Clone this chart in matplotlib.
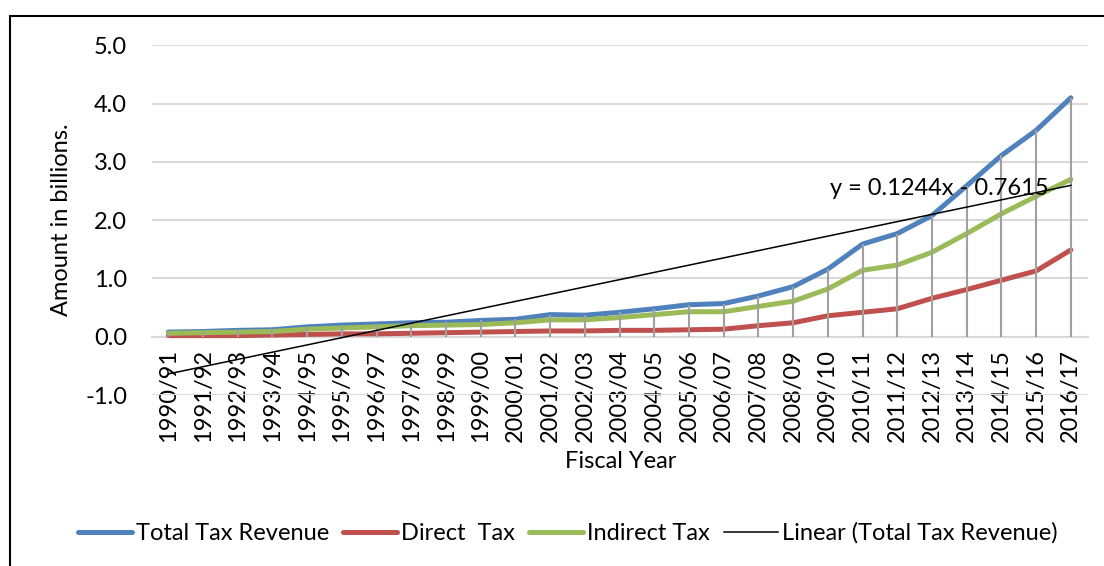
import matplotlib
matplotlib.use("Agg")
import matplotlib.pyplot as plt
from matplotlib.patches import Rectangle
import numpy as np

# Tax revenue by fiscal year, in billions
years = ["1990/91", "1991/92", "1992/93", "1993/94", "1994/95", "1995/96", "1996/97",
         "1997/98", "1998/99", "1999/00", "2000/01", "2001/02", "2002/03", "2003/04",
         "2004/05", "2005/06", "2006/07", "2007/08", "2008/09", "2009/10", "2010/11",
         "2011/12", "2012/13", "2013/14", "2014/15", "2015/16", "2016/17"]
total_tax = [0.08, 0.09, 0.11, 0.12, 0.17, 0.20, 0.22, 0.24, 0.25, 0.28, 0.30, 0.38, 0.37, 0.42,
             0.48, 0.55, 0.57, 0.70, 0.86, 1.16, 1.59, 1.77, 2.08, 2.59, 3.11, 3.54, 4.10]
direct_tax = [0.02, 0.02, 0.02, 0.03, 0.04, 0.05, 0.05, 0.06, 0.07, 0.08, 0.09, 0.10, 0.10, 0.11,
              0.11, 0.12, 0.13, 0.19, 0.24, 0.36, 0.42, 0.48, 0.66, 0.81, 0.97, 1.13, 1.49]
indirect_tax = [0.06, 0.07, 0.08, 0.09, 0.13, 0.15, 0.17, 0.19, 0.20, 0.21, 0.24, 0.29, 0.29, 0.33,
                0.38, 0.43, 0.43, 0.52, 0.61, 0.82, 1.14, 1.23, 1.45, 1.77, 2.11, 2.41, 2.70]

# linear trend of the total, x = 1..n
slope = 0.1244
intercept = -0.7615

plt.rcParams['font.family'] = ['Lato', 'DejaVu Sans']
fs = 17

fig = plt.figure(figsize=(11.04, 5.66), dpi=100)
ax = fig.add_axes([0.1377, 0.302, 0.848, 0.618])

x = np.arange(len(years))
ax.plot(x, total_tax, color='#4f81bd', lw=3.6, solid_capstyle='round', label="Total Tax Revenue", zorder=3)
ax.plot(x, direct_tax, color='#c0504d', lw=3.6, solid_capstyle='round', label="Direct  Tax", zorder=3)
ax.plot(x, indirect_tax, color='#9bbb59', lw=3.6, solid_capstyle='round', label="Indirect Tax", zorder=3)

# drop lines from the total down to the axis
ax.vlines(x, 0, total_tax, color='#a0a0a0', lw=1.5, zorder=4)

trend = slope * (x + 1) + intercept
ax.plot(x, trend, color='black', lw=1.1, label="Linear (Total Tax Revenue)", zorder=5)
ax.text(19.05, 2.55, "y = 0.1244x - 0.7615", fontsize=fs, ha='left', va='center', zorder=6)

ax.set_xlim(-0.47, 26.5)
ax.set_ylim(-1, 5)
ax.set_yticks(np.arange(-1, 5.1, 1.0))
ax.set_yticklabels([f"{v:.1f}" for v in np.arange(-1, 5.1, 1.0)])
ax.grid(axis='y', color='#d9d9d9', lw=1.5)
ax.set_axisbelow(True)

for s in ['top', 'right', 'left']:
    ax.spines[s].set_visible(False)
ax.spines['bottom'].set_position(('data', 0))
ax.spines['bottom'].set_color('#d9d9d9')
ax.spines['bottom'].set_linewidth(1.5)

ax.set_xticks(x)
ax.set_xticklabels(years, rotation=90)
ax.tick_params(axis='x', length=0, pad=9, labelsize=fs)
ax.tick_params(axis='y', length=0, pad=18, labelsize=fs)

fig.text(0.562, 1 - 462 / 566, "Fiscal Year", fontsize=fs, ha='center', va='center')
fig.text(0.056, 0.612, "Amount in billions.", fontsize=fs, rotation=90, ha='center', va='center')

fig.legend(loc='center', bbox_to_anchor=(0.514, 0.058), ncol=4, frameon=False, fontsize=fs,
           handlelength=2.3, handletextpad=0.15, columnspacing=0.6)

fig.add_artist(Rectangle((10 / 1104, -0.05), 1.1, 1 - 16 / 566 + 0.05, transform=fig.transFigure,
                         fill=False, edgecolor='black', lw=1.5))

fig.savefig("out.png", dpi=100)
